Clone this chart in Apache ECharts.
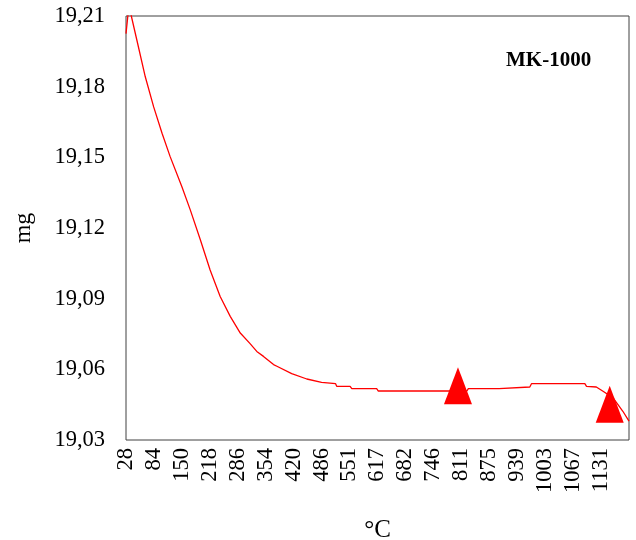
<!DOCTYPE html>
<html>
<head>
<meta charset="utf-8">
<script src="https://cdn.jsdelivr.net/npm/echarts@6/dist/echarts.min.js"></script>
<style>
html,body{margin:0;padding:0;background:#fff;}
#chart{width:636px;height:540px;}
</style>
</head>
<body>
<div id="chart"></div>
<script>
// Category tick labels (°C), equally spaced along the x axis
var xTickLabels = ['28','84','150','218','286','354','420','486','551','617','682','746','811','875','939','1003','1067','1131',''];
// Curve position along the x axis (in tick-label steps from "28") and mass (mg)
var curvePos = [0, 0.11, 0.19, 0.39, 0.69, 0.99, 1.29, 1.58, 2.00, 2.30, 2.66, 3.01, 3.37, 3.73, 4.09, 4.44, 4.68, 4.92, 5.28, 5.40, 5.93, 6.47, 7.00, 7.06, 7.50, 7.54, 8.02, 8.08, 8.97, 9.03, 12.20, 12.25, 13.35, 13.38, 14.45, 14.51, 16.42, 16.48, 16.83, 17.07, 17.43, 17.78, 18.00];
var curveMg  = [19.2025, 19.2150, 19.2100, 19.1997, 19.1842, 19.1714, 19.1602, 19.1503, 19.1375, 19.1277, 19.1150, 19.1022, 19.0909, 19.0825, 19.0754, 19.0709, 19.0676, 19.0655, 19.0620, 19.0613, 19.0582, 19.0559, 19.0545, 19.0539, 19.0539, 19.0528, 19.0528, 19.0518, 19.0518, 19.0508, 19.0508, 19.0518, 19.0518, 19.0525, 19.0525, 19.0539, 19.0539, 19.0528, 19.0525, 19.0507, 19.0479, 19.0422, 19.0380];
// Triangle markers
var markerPos = [11.88, 17.31];
var markerMg  = [19.0530, 19.0452];
var yTicks = {min: 19.03, max: 19.21, step: 0.03};

var curveData = curvePos.map(function (p, i) { return [p, curveMg[i]]; });
var markerData = markerPos.map(function (p, i) { return [p, markerMg[i]]; });

var chart = echarts.init(document.getElementById('chart'), null, {renderer: 'canvas'});
var font = 'Liberation Serif';
chart.setOption({
  animation: false,
  backgroundColor: '#fff',
  grid: {left: 126, right: 7, top: 16, bottom: 100, containLabel: false, outerBoundsMode: 'none',
         show: true, borderColor: '#404040', borderWidth: 1, backgroundColor: 'transparent'},
  graphic: [{
    type: 'text', left: 506, top: 50,
    style: {text: 'MK-1000', font: 'bold 21px "Liberation Serif"', fill: '#000'}
  }],
  xAxis: {
    type: 'value', min: 0, max: 18, interval: 1,
    name: '°C', nameLocation: 'middle', nameGap: 78,
    nameTextStyle: {fontFamily: font, fontSize: 25, color: '#000'},
    axisLine: {show: false}, axisTick: {show: false}, splitLine: {show: false},
    axisLabel: {
      rotate: 90, margin: 8, fontFamily: font, fontSize: 22.5, color: '#000',
      formatter: function (v) { var i = Math.round(v); return xTickLabels[i] || ''; }
    }
  },
  yAxis: {
    type: 'value', min: yTicks.min, max: yTicks.max, interval: yTicks.step,
    name: 'mg', nameLocation: 'middle', nameGap: 90, nameRotate: 90,
    nameTextStyle: {fontFamily: font, fontSize: 24, color: '#000'},
    axisLine: {show: false}, axisTick: {show: false}, splitLine: {show: false},
    axisLabel: {
      margin: 21, fontFamily: font, fontSize: 22.5, color: '#000',
      formatter: function (v) { return v.toFixed(2).replace('.', ','); }
    }
  },
  series: [{
    type: 'line', data: curveData, showSymbol: false, symbol: 'none', clip: true,
    lineStyle: {color: '#ff0000', width: 1.3}, z: 2
  }, {
    type: 'scatter', data: markerData, symbol: 'triangle', symbolSize: [28, 37],
    itemStyle: {color: '#ff0000', opacity: 1}, z: 3
  }]
});
</script>
</body>
</html>
